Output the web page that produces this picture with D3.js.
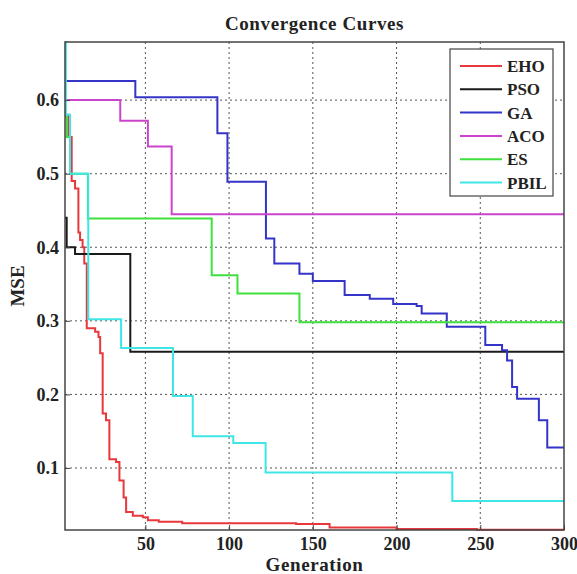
<!DOCTYPE html>
<html>
<head>
<meta charset="utf-8">
<script src="https://cdn.jsdelivr.net/npm/d3@7"></script>
<style>
  body { margin: 0; background: #fff; }
  text { font-family: "Liberation Serif", "Times New Roman", serif; font-weight: bold; fill: #222; }
</style>
</head>
<body>
<div id="chart"></div>
<script>
// data: [generation, MSE], drawn as steps
let ehoData = [[2,0.58],[4,0.55],[6,0.49],[8,0.48],[10,0.42],[11,0.41],[12.5,0.40],[13.5,0.378],[15,0.29],[20,0.285],[22,0.278],[23,0.256],[24.5,0.174],[26.5,0.165],[28.5,0.112],[32.5,0.108],[34.5,0.083],[37,0.06],[38.5,0.04],[42.5,0.035],[48.5,0.033],[51.5,0.029],[58,0.027],[72,0.025],[140,0.024],[160,0.019],[200,0.017],[248,0.016],[300,0.016]];
let psoData = [[2,0.44],[3,0.40],[8,0.391],[41,0.258],[300,0.258]];
let gaData = [[2,0.626],[44,0.604],[93,0.555],[99,0.489],[122,0.412],[127,0.378],[142,0.364],[150,0.354],[169,0.335],[184,0.330],[198,0.323],[212,0.320],[215,0.310],[230,0.292],[253,0.267],[263,0.260],[266,0.246],[269,0.210],[272,0.194],[285,0.165],[290,0.128],[300,0.128]];
let acoData = [[2,0.6],[35,0.572],[51.5,0.537],[65.7,0.445],[300,0.445]];
let esData = [[2,0.577],[3,0.55],[5,0.5],[15.7,0.439],[89.6,0.362],[105,0.337],[142,0.298],[300,0.298]];
let pbilData = [[2,0.679],[2.5,0.58],[5,0.5],[15.9,0.302],[35.5,0.263],[66.5,0.198],[78.3,0.143],[102.5,0.134],[121.8,0.094],[233.3,0.055],[300,0.055]];

let seriesNames = ["EHO", "PSO", "GA", "ACO", "ES", "PBIL"];
let seriesColors = ["#e8383c", "#1a1a1a", "#3434c8", "#cc44cc", "#3ee03e", "#3ee6e6"];
let seriesData = [ehoData, psoData, gaData, acoData, esData, pbilData];

let xTicks = [50, 100, 150, 200, 250, 300];
let yTicks = [0.1, 0.2, 0.3, 0.4, 0.5, 0.6];

let svgWidth = 577;
let svgHeight = 574;

let chartMargin = {
    top: 42,
    right: 13,
    bottom: 44,
    left: 65
};

let chartWidth = svgWidth - chartMargin.left - chartMargin.right;
let chartHeight = svgHeight - chartMargin.top - chartMargin.bottom;

let svg = d3.select("#chart")
    .append("svg")
    .attr("width", svgWidth)
    .attr("height", svgHeight);

let chartGroup = svg.append("g")
    .attr("transform", `translate(${chartMargin.left}, ${chartMargin.top})`);

let xScale = d3.scaleLinear().domain([2, 300]).range([0, chartWidth]);
let yScale = d3.scaleLinear().domain([0.0157, 0.679]).range([chartHeight, 0]);

// grid
chartGroup.append("g")
    .selectAll("line")
    .data(xTicks.filter(d => d < 300))
    .enter()
    .append("line")
    .attr("x1", d => xScale(d))
    .attr("x2", d => xScale(d))
    .attr("y1", 0)
    .attr("y2", chartHeight)
    .attr("stroke", "#555")
    .attr("stroke-width", 1)
    .attr("stroke-dasharray", "2,3");

chartGroup.append("g")
    .selectAll("line")
    .data(yTicks)
    .enter()
    .append("line")
    .attr("x1", 0)
    .attr("x2", chartWidth)
    .attr("y1", d => yScale(d))
    .attr("y2", d => yScale(d))
    .attr("stroke", "#555")
    .attr("stroke-width", 1)
    .attr("stroke-dasharray", "2,3");

// curves
let line = d3.line()
    .x(d => xScale(d[0]))
    .y(d => yScale(d[1]))
    .curve(d3.curveStepAfter);

chartGroup.selectAll(".curve")
    .data(seriesData)
    .enter()
    .append("path")
    .attr("class", "curve")
    .attr("d", d => line(d))
    .attr("fill", "none")
    .attr("stroke", (d, i) => seriesColors[i])
    .attr("stroke-width", 2);

// box
chartGroup.append("rect")
    .attr("width", chartWidth)
    .attr("height", chartHeight)
    .attr("fill", "none")
    .attr("stroke", "#444")
    .attr("stroke-width", 1.5);

// axes
let bottomAxis = d3.axisBottom(xScale).tickValues(xTicks).tickFormat(d3.format("d")).tickSize(-5).tickPadding(7);
let leftAxis = d3.axisLeft(yScale).tickValues(yTicks).tickFormat(d3.format(".1f")).tickSize(-5).tickPadding(6);

let xaxis = chartGroup.append("g")
    .attr("transform", `translate(0, ${chartHeight})`)
    .call(bottomAxis);

let yaxis = chartGroup.append("g")
    .call(leftAxis);

[xaxis, yaxis].forEach(ax => {
    ax.select(".domain").remove();
    ax.selectAll("line").attr("stroke", "#444");
    ax.selectAll("text")
        .style("font-family", "Liberation Serif, serif")
        .style("font-weight", "bold")
        .style("font-size", "18px")
        .attr("fill", "#222");
});

// titles
svg.append("text")
    .attr("x", chartMargin.left + chartWidth / 2)
    .attr("y", 30)
    .attr("text-anchor", "middle")
    .style("font-size", "19px")
    .style("letter-spacing", "0.6px")
    .text("Convergence Curves");

svg.append("text")
    .attr("x", chartMargin.left + chartWidth / 2)
    .attr("y", 571)
    .attr("text-anchor", "middle")
    .style("font-size", "19px")
    .style("letter-spacing", "0.6px")
    .text("Generation");

svg.append("text")
    .attr("transform", `translate(24, ${chartMargin.top + chartHeight / 2}) rotate(-90)`)
    .attr("text-anchor", "middle")
    .style("font-size", "19px")
    .text("MSE");

// legend
let legend = svg.append("g").attr("transform", "translate(450, 49)");

legend.append("rect")
    .attr("width", 103)
    .attr("height", 147)
    .attr("fill", "#fff")
    .attr("stroke", "#444")
    .attr("stroke-width", 1.2);

let legendItems = legend.selectAll(".item")
    .data(seriesNames)
    .enter()
    .append("g")
    .attr("class", "item")
    .attr("transform", (d, i) => `translate(0, ${17 + i * 23.3})`);

legendItems.append("line")
    .attr("x1", 10)
    .attr("x2", 52)
    .attr("stroke", (d, i) => seriesColors[i])
    .attr("stroke-width", 2);

legendItems.append("text")
    .attr("x", 57)
    .attr("y", 6)
    .style("font-size", "17px")
    .text(d => d);
</script>
</body>
</html>
